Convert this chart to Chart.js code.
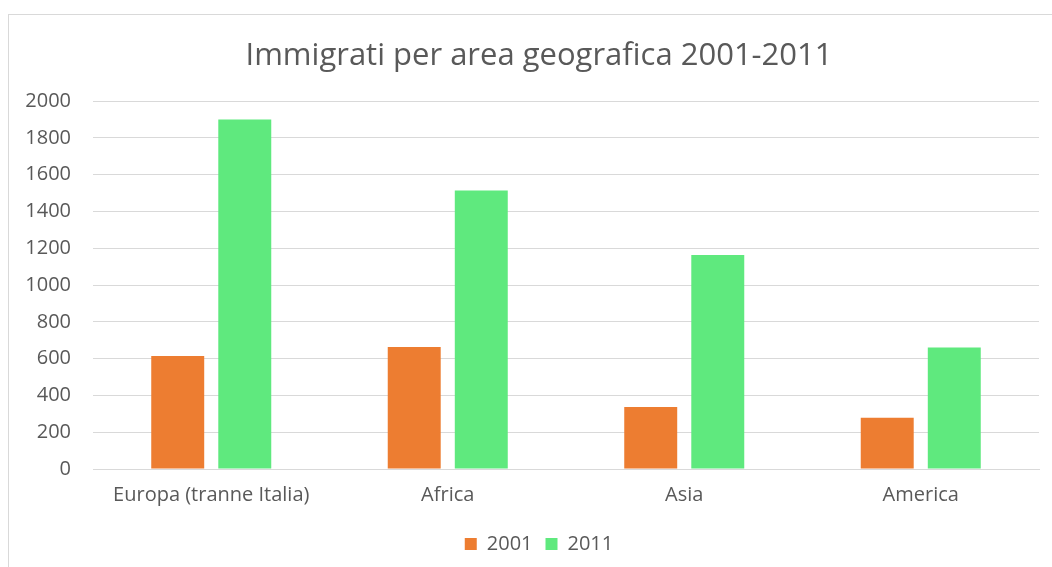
<!DOCTYPE html>
<html>
<head>
<meta charset="utf-8">
<script src="https://cdn.jsdelivr.net/npm/chart.js@4.4.0/dist/chart.umd.min.js"></script>
<style>
  html, body { margin: 0; padding: 0; background: #fff; overflow: hidden; width: 1052px; height: 567px; }
  #frame { position: absolute; left: 8px; top: 14px; width: 1100px; height: 600px; border: 1px solid #d9d9d9; box-sizing: border-box; }
  #wrap { position: absolute; left: 0; top: 0; width: 1078px; height: 567px; }
</style>
</head>
<body>
<div id="frame"></div>
<div id="wrap"><canvas id="c" width="1078" height="567"></canvas></div>
<script>
const categories = ["Europa (tranne Italia)", "Africa", "Asia", "America"];
const series2001 = [615, 664, 337, 279];
const series2011 = [1900, 1515, 1164, 661];
const seriesLabels = ["2001", "2011"];
const titleText = "Immigrati per area geografica 2001-2011";

const FONT = "'Open Sans', sans-serif";
const TXT = "#595959";

new Chart(document.getElementById('c'), {
  type: 'bar',
  data: {
    labels: categories,
    datasets: [
      { label: seriesLabels[0], data: series2001, backgroundColor: '#ED7D31', categoryPercentage: 0.567, barPercentage: 0.79 },
      { label: seriesLabels[1], data: series2011, backgroundColor: '#5FE97E', categoryPercentage: 0.567, barPercentage: 0.79 }
    ]
  },
  options: {
    responsive: false,
    animation: false,
    devicePixelRatio: 1,
    layout: { padding: { left: 0, right: 0, top: 0, bottom: 3 } },
    plugins: {
      title: {
        display: true, text: titleText, color: TXT,
        font: { family: FONT, size: 31, weight: 'normal' },
        padding: { top: 38, bottom: 26 }
      },
      legend: {
        position: 'bottom',
        labels: {
          color: TXT, font: { family: FONT, size: 20 },
          boxWidth: 12, boxHeight: 12, padding: 13
        }
      },
      tooltip: { enabled: false }
    },
    scales: {
      x: {
        grid: { display: false, drawTicks: false },
        border: { color: '#d9d9d9' },
        ticks: { color: TXT, font: { family: FONT, size: 20 }, padding: 14, maxRotation: 0 }
      },
      y: {
        min: 0, max: 2000,
        grid: { color: '#d9d9d9', lineWidth: 1, drawTicks: false },
        border: { display: false },
        ticks: { stepSize: 200, color: TXT, font: { family: FONT, size: 20 }, padding: 22, callback: (v) => String(v) },
        afterFit: (s) => { s.width = 93; }
      },
      yRight: {
        type: 'linear', position: 'right', min: 0, max: 2000,
        grid: { display: false, drawTicks: false },
        border: { display: false },
        ticks: { display: false },
        afterFit: (s) => { s.width = 39; }
      }
    }
  }
});
</script>
</body>
</html>
